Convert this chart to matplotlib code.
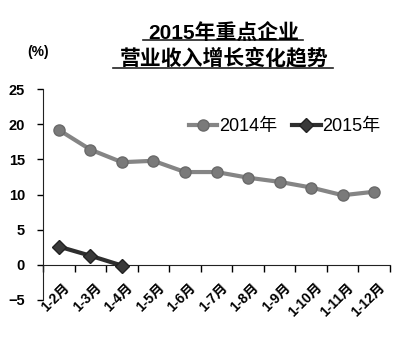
import matplotlib.pyplot as plt
import matplotlib.transforms as mtransforms
import numpy as np

plt.rcParams['font.family'] = ['Liberation Sans', 'Noto Sans CJK SC', 'DejaVu Sans']

months = ['1-2月', '1-3月', '1-4月', '1-5月', '1-6月', '1-7月', '1-8月',
          '1-9月', '1-10月', '1-11月', '1-12月']
v2014 = [19.2, 16.4, 14.6, 14.8, 13.2, 13.2, 12.4, 11.8, 11.0, 9.9, 10.4]
v2015 = [2.6, 1.3, -0.1]

fig = plt.figure(figsize=(4, 3.55), dpi=100)
ax = fig.add_axes([0.1075, 0.155, 0.8675, 0.594])

x = np.arange(len(months))
ax.plot(x, v2014, color='#858585', lw=3, marker='o', ms=8,
        mfc='#7a7a7a', mec='#6a6a6a', label='2014年', zorder=3)
ax.plot(x[:len(v2015)], v2015, color='#2e2e2e', lw=3, marker='D', ms=7,
        mfc='#3a3a3a', mec='#222222', label='2015年', zorder=4)

ax.set_xlim(-0.5, len(months) - 0.5)
ax.set_ylim(-5, 25)
ax.set_yticks([-5, 0, 5, 10, 15, 20, 25])
ax.tick_params(axis='y', length=4, width=1, labelsize=10.5, pad=9)
for t in ax.get_yticklabels():
    t.set_fontweight('bold')

# x axis at zero with ticks between categories
ax.spines['top'].set_visible(False)
ax.spines['right'].set_visible(False)
ax.spines['bottom'].set_position(('data', 0))
ax.spines['left'].set_color('#222222')
ax.spines['bottom'].set_color('#222222')
ax.set_xticks(np.arange(len(months) + 1) - 0.5)
ax.set_xticklabels([])
ax.tick_params(axis='x', length=5, width=1, direction='out')
ax.set_xticks(x, minor=True)
ax.set_xticklabels(months, minor=True, rotation=45, ha='right', va='top',
                   rotation_mode='anchor', fontsize=10, fontweight='bold')
ax.tick_params(axis='x', which='minor', length=0, pad=11)
shift = mtransforms.ScaledTranslation(0.04, 0, fig.dpi_scale_trans)
for t in ax.get_xticklabels(minor=True):
    t.set_transform(t.get_transform() + shift)

ax.legend(loc='upper right', bbox_to_anchor=(1.02, 0.94), ncol=2, frameon=False,
          fontsize=13, handlelength=1.6, handletextpad=0.1, columnspacing=0.8)

fig.text(0.56, 0.908, '2015年重点企业', ha='center', va='center',
         fontsize=15, fontweight='bold')
fig.text(0.56, 0.836, '营业收入增长变化趋势', ha='center', va='center',
         fontsize=15, fontweight='bold')
fig.add_artist(plt.Line2D([0.358, 0.758], [0.888, 0.888], color='#222222', lw=1.2))
fig.add_artist(plt.Line2D([0.283, 0.833], [0.808, 0.808], color='#222222', lw=1.2))
fig.text(0.095, 0.853, '(%)', ha='center', va='center', fontsize=10, fontweight='bold')

fig.savefig('out.png', dpi=100)
